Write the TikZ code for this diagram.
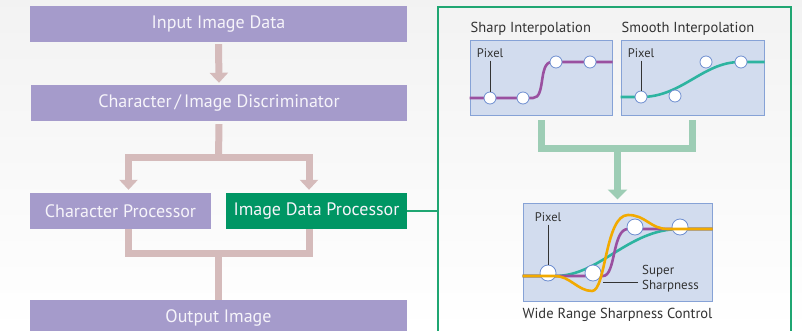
\documentclass[tikz,border=0pt]{standalone}
\usepackage{fontspec}
\setmainfont{PT Sans}
\usetikzlibrary{arrows.meta,positioning}
\definecolor{boxpurple}{HTML}{A59BCB}
\definecolor{boxgreen}{HTML}{009664}
\definecolor{boxtext}{HTML}{F6F4FA}
\definecolor{flowpink}{HTML}{D5BBBB}
\definecolor{flowgreen}{HTML}{9DCDB5}
\definecolor{framegreen}{HTML}{1FA672}
\definecolor{panelfill}{HTML}{D2DCEE}
\definecolor{panelline}{HTML}{86A2D6}
\definecolor{pixline}{HTML}{6E8ED0}
\definecolor{sharppurple}{HTML}{9A50A0}
\definecolor{smoothteal}{HTML}{2DB4A0}
\definecolor{superorange}{HTML}{F2AA00}
\definecolor{labelgrey}{HTML}{333333}
\begin{document}
\begin{tikzpicture}[x=1pt,y=-1pt,
  procbox/.style={fill=boxpurple,text=boxtext,minimum height=36pt,inner sep=0pt,
    font=\fontsize{18}{21}\selectfont},
  flow/.style={draw=flowpink,line width=7pt},
  flowtip/.style={-{Triangle[width=18pt,length=10pt]}},
  gflow/.style={draw=flowgreen,line width=7pt},
  panel/.style={fill=panelfill,draw=panelline,line width=1pt,inner sep=0pt},
  pix/.style={circle,fill=white,draw=pixline,line width=0.8pt,inner sep=0pt},
  lbl/.style={text=labelgrey,inner sep=0pt},
  curve/.style={line width=2.6pt}]
%%Background
\useasboundingbox (0,0) rectangle (802,331);
\clip (0,0) rectangle (802,331);
\shade[top color=black!5,bottom color=white] (0,0) rectangle (802,331);
%%Flow boxes
\node[procbox,minimum width=377pt] (input) at (218.5,24) {Input Image Data};
\node[procbox,minimum width=376pt] (disc) at (219,103) {Character\,/\,Image Discriminator};
\node[procbox,minimum width=181pt] (charp) at (120.5,211) {Character Processor};
\node[procbox,minimum width=181pt,fill=boxgreen] (imgp) at (316.5,211) {Image Data Processor};
\node[procbox,minimum width=377pt] (output) at (218.5,318) {Output Image};
%%Flow connectors
\coordinate (split) at (218.5,158);
\coordinate (cl) at (128.5,158);
\coordinate (cr) at (309,158);
\coordinate (merge) at (218.5,253);
\draw[flow,flowtip] ([yshift=-2pt]input.south) -- ([yshift=2pt]disc.north);
\draw[flow] ([yshift=-3pt]disc.south) -- (split);
\draw[flow,flowtip] (split) -- (cl) -- ([yshift=3pt]cl |- charp.north);
\draw[flow,flowtip] (split) -- (cr) -- ([yshift=3pt]cr |- charp.north);
\draw[flow] (cl |- charp.south) -- (cl |- merge) -- (cr |- merge) -- (cr |- imgp.south);
\draw[flow] (merge) -- (output.north);
%%Frame
\node[draw=framegreen,line width=2pt,minimum width=353pt,minimum height=340pt,inner sep=0pt] (frame) at (614.5,177) {};
\draw[framegreen,line width=1.6pt] (imgp.east) -- (imgp.east -| frame.west);
%%Panels
\node[panel,minimum width=142pt,minimum height=75pt] (sharp) at (541,78.5) {};
\node[panel,minimum width=143pt,minimum height=75pt] (smooth) at (692.5,78.5) {};
\node[panel,minimum width=189pt,minimum height=98pt] (wide) at (617.5,252) {};
\node[lbl,anchor=south west,font=\fontsize{14.5}{16}\selectfont] (sharpt) at ([xshift=1pt,yshift=5pt]sharp.north west) {Sharp Interpolation};
\node[lbl,anchor=south west,font=\fontsize{14.5}{16}\selectfont] (smootht) at ([xshift=1pt,yshift=5pt]smooth.north west) {Smooth Interpolation};
\node[lbl,below=6pt of wide,font=\fontsize{14.5}{16}\selectfont] (widet) {Wide Range Sharpness Control};
%%Panel connectors
\coordinate (gl) at (541,148.5);
\coordinate (gr) at (692.5,148.5);
\coordinate (gsplit) at (617.5,148.5);
\draw[gflow] ([yshift=-4pt]sharp.south) -- (gl) -- (gr) -- ([yshift=-4pt]smooth.south);
\draw[gflow,-{Triangle[width=19pt,length=10pt]}] (gsplit) -- ([yshift=3pt]wide.north);
%%Sharp interpolation
\draw[sharppurple,curve] (sharp.west |- 0,98) -- (533,98) .. controls (546,98) and (538,62) .. (552,62) -- (sharp.east |- 0,62);
\foreach \n/\x/\y in {a/490/98,b/523/98,c/556/62,d/590/62}
  \node[pix,minimum size=12pt] (sp\n) at (\x,\y) {};
\node[lbl,font=\fontsize{12.5}{14}\selectfont] (spix) at (490,53) {Pixel};
\draw[labelgrey,line width=0.7pt] ([yshift=-3pt]spix.south) -- (spa.north);
%%Smooth interpolation
\draw[smoothteal,curve] (smooth.west |- 0,97) -- (641,97) .. controls (682,97) and (703,62) .. (740,62) -- (smooth.east |- 0,62);
\foreach \n/\x/\y in {a/641/97,b/675/96,c/706/62,d/741/62}
  \node[pix,minimum size=12pt] (mp\n) at (\x,\y) {};
\node[lbl,font=\fontsize{12.5}{14}\selectfont] (mpix) at (641,53) {Pixel};
\draw[labelgrey,line width=0.7pt] ([yshift=-3pt]mpix.south) -- (mpa.north);
%%Wide range sharpness control
\draw[smoothteal,curve] (wide.west |- 0,276) -- (555,276) .. controls (600,276) and (628,229) .. (680,229) -- (wide.east |- 0,229);
\draw[sharppurple,curve] (wide.west |- 0,276) -- (603,276) .. controls (616,276) and (612,229) .. (628,229) -- (wide.east |- 0,229);
\foreach \n/\x/\y in {a/548/273,b/593/273,c/635/227,d/680/227}
  \node[pix,minimum size=16pt] (wp\n) at (\x,\y) {};
\draw[superorange,curve] (wide.west |- 0,276) -- (555,276) .. controls (570,276) and (578,291) .. (592,291)
  .. controls (606,291) and (605,215) .. (628,215) .. controls (646,215) and (650,229) .. (668,229) -- (wide.east |- 0,229);
\node[lbl,font=\fontsize{12.5}{14}\selectfont] (wpix) at (548,217) {Pixel};
\draw[labelgrey,line width=0.7pt] ([yshift=-3pt]wpix.south) -- (wpa.north);
\node[lbl,anchor=west,align=left,font=\fontsize{13}{15}\selectfont] (super) at (642,279) {Super\\Sharpness};
\coordinate (superend) at (603,282);
\draw[labelgrey,line width=0.7pt] ([xshift=-4pt,yshift=-3pt]super.west) -- (superend);
\end{tikzpicture}
\end{document}
